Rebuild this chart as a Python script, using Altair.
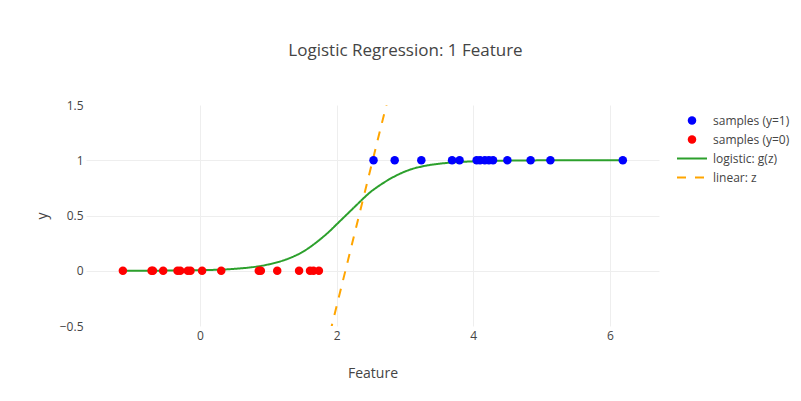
import altair as alt
import pandas as pd

# ---- data ----
red_x = [-1.13, -0.71, -0.69, -0.54, -0.33, -0.29, -0.18, -0.14, 0.03, 0.31,
         0.86, 0.89, 1.13, 1.45, 1.61, 1.66, 1.74]
blue_x = [2.54, 2.85, 3.24, 3.69, 3.80, 4.05, 4.10, 4.17, 4.23, 4.29, 4.50,
          4.84, 5.13, 6.19]

curve_x = [-1.13, -0.5, 0.0, 0.5, 1.0, 1.25, 1.5, 1.75, 1.9, 2.0, 2.1, 2.2,
           2.3, 2.4, 2.5, 2.6, 2.75, 2.9, 3.1, 3.3, 3.6, 4.0, 4.5, 5.0, 6.19]
curve_y = [0.0003, 0.0014, 0.005, 0.017, 0.057, 0.10, 0.17, 0.28, 0.36, 0.42,
           0.48, 0.54, 0.60, 0.66, 0.715, 0.76, 0.82, 0.87, 0.92, 0.95, 0.975,
           0.99, 0.997, 0.999, 1.0]

lin_x = [-1.13, 1.74, 2.54, 6.19]
lin_z = [-8.15, -0.97, 1.03, 10.16]

labels = ["samples (y=1)", "samples (y=0)", "logistic: g(z)", "linear: z"]
colors = ["#0000ff", "#ff0000", "#2ca02c", "#ffa500"]

x_ticks = [0, 2, 4, 6]
y_ticks = [-0.5, 0, 0.5, 1, 1.5]

# ---- tables ----
pts = pd.DataFrame(
    {"x": blue_x + red_x,
     "y": [1] * len(blue_x) + [0] * len(red_x),
     "series": [labels[0]] * len(blue_x) + [labels[1]] * len(red_x)}
)
lines = pd.DataFrame(
    {"x": curve_x + lin_x,
     "y": curve_y + lin_z,
     "series": [labels[2]] * len(curve_x) + [labels[3]] * len(lin_x)}
)
leg = pd.DataFrame({"series": labels, "idx": list(range(len(labels)))})

color_scale = alt.Scale(domain=labels, range=colors)
dash_scale = alt.Scale(domain=labels[2:], range=[[1, 0], [9, 9]])

xs = alt.Scale(domain=[-1.67, 6.72], nice=False, zero=False)
ys = alt.Scale(domain=[-0.5, 1.5], nice=False, zero=False)

x_axis = alt.Axis(values=x_ticks, title="Feature", format="~g", labelPadding=4,
                  titlePadding=25)
y_axis = alt.Axis(values=y_ticks, title="y", format="~g", labelPadding=3,
                  titlePadding=10,
                  gridOpacity={"condition": {"test": "datum.value == 1.5 || datum.value == -0.5",
                                             "value": 0}, "value": 1})

line_layer = alt.Chart(lines).mark_line(strokeWidth=2, clip=True, interpolate="monotone").encode(
    x=alt.X("x:Q", scale=xs, axis=x_axis),
    y=alt.Y("y:Q", scale=ys, axis=y_axis),
    color=alt.Color("series:N", scale=color_scale, legend=None),
    strokeDash=alt.StrokeDash("series:N", scale=dash_scale, legend=None),
    detail="series:N",
)

point_layer = alt.Chart(pts).mark_circle(size=72, opacity=1).encode(
    x=alt.X("x:Q", scale=xs),
    y=alt.Y("y:Q", scale=ys),
    color=alt.Color("series:N", scale=color_scale, legend=None),
)

data_layers = alt.layer(line_layer, point_layer)

# ---- legend (manual, to the right of the plot) ----
leg_base = alt.Chart(leg).transform_calculate(py="15.5 + 19 * datum.idx")

leg_pts = leg_base.transform_filter("datum.idx < 2").mark_circle(size=72, opacity=1).encode(
    x=alt.value(606),
    y=alt.Y("py:Q", scale=None, axis=None),
    color=alt.Color("series:N", scale=color_scale, legend=None),
)
leg_lines = leg_base.transform_filter("datum.idx >= 2").mark_rule(strokeWidth=2).encode(
    x=alt.value(591),
    x2=alt.value(621),
    y=alt.Y("py:Q", scale=None, axis=None),
    color=alt.Color("series:N", scale=color_scale, legend=None),
    strokeDash=alt.StrokeDash("series:N", scale=dash_scale, legend=None),
)
leg_text = leg_base.mark_text(align="left", baseline="middle", fontSize=12,
                              font="Open Sans", color="#444").encode(
    x=alt.value(627),
    y=alt.Y("py:Q", scale=None, axis=None),
    text="series:N",
)

chart = alt.layer(data_layers, leg_pts, leg_lines, leg_text).resolve_scale(
    y="independent"
).properties(
    width=573,
    height=221,
    autosize=alt.AutoSizeParams(type="none"),
    padding={"left": 78, "top": 97, "right": 134, "bottom": 60},
    title=alt.TitleParams("Logistic Regression: 1 Feature", fontSize=17, font="Open Sans",
                          fontWeight="normal", color="#444", anchor="middle", dx=33,
                          offset=39),
).configure_view(strokeWidth=0).configure_axis(
    domain=False, ticks=False, grid=True, gridColor="#eeeeee", gridWidth=1,
    labelFont="Open Sans", labelFontSize=12, labelColor="#444",
    titleFont="Open Sans", titleFontSize=14, titleColor="#444", titleFontWeight="normal",
)

chart.save("out.html", embed_options={"renderer": "svg", "actions": False})
